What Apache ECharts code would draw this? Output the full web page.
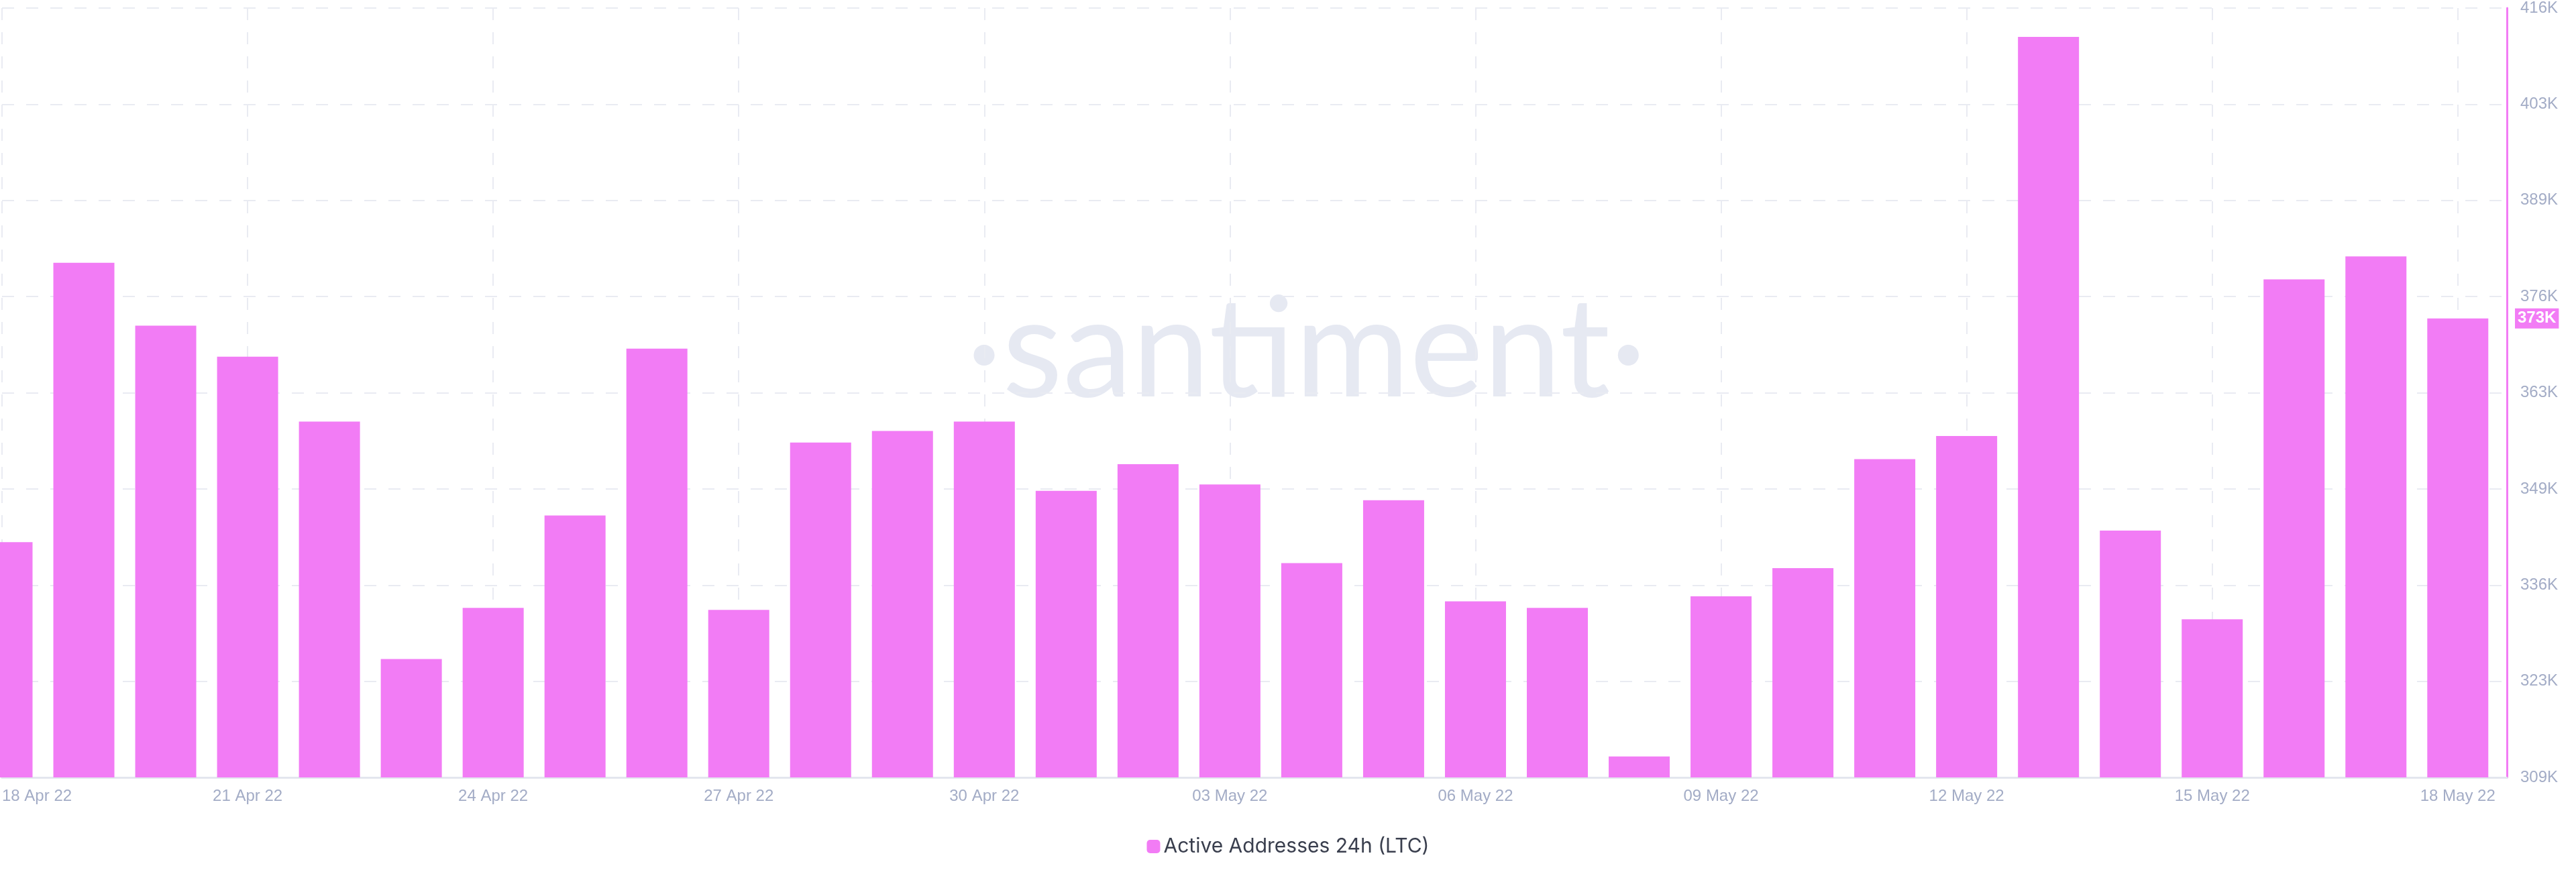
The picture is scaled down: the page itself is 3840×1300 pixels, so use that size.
<!DOCTYPE html>
<html>
<head>
<meta charset="utf-8">
<script src="https://cdn.jsdelivr.net/npm/echarts@6/dist/echarts.min.js"></script>
<style>html,body{margin:0;padding:0;background:#fff}#canvasContainer{width:3840px;height:1300px}</style>
</head>
<body>
<div id="canvasContainer"></div>
<script>
var dates = ['18 Apr 22','19 Apr 22','20 Apr 22','21 Apr 22','22 Apr 22','23 Apr 22','24 Apr 22','25 Apr 22',
    '26 Apr 22','27 Apr 22','28 Apr 22','29 Apr 22','30 Apr 22','01 May 22','02 May 22','03 May 22','04 May 22',
    '05 May 22','06 May 22','07 May 22','08 May 22','09 May 22','10 May 22','11 May 22','12 May 22','13 May 22',
    '14 May 22','15 May 22','16 May 22','17 May 22','18 May 22'];
var activeAddresses = [342000,380700,372000,367700,358700,325800,332900,345700,368800,332600,355800,357400,
    358700,349100,352800,350000,339100,347800,333800,332900,312300,334500,338400,353500,356700,412000,343600,
    331300,378400,381600,373000];
var yMin = 309400;
var yMax = 416000;
var lastValue = 373000;

var chart = echarts.init(document.getElementById('canvasContainer'));
var labelColor = '#a3acc6';
var gridColor = '#e9ebf2';
var pink = '#f27cf5';

var option = {
    animation: false,
    grid: { left: 0, right: 103, top: 12, bottom: 141 },
    graphic: [{
        type: 'text', left: 1440, top: 420, z: 0,
        style: { text: '·santiment·', font: '400 208px Lato, "Open Sans", sans-serif', fill: '#e6e9f2' }
    }],
    legend: {
        bottom: 18, left: 'center', itemWidth: 20, itemHeight: 20,
        textStyle: { color: '#3a3f4e', fontSize: 30, fontFamily: 'Inter, sans-serif' },
        data: ['Active Addresses 24h (LTC)']
    },
    xAxis: {
        type: 'value', min: 0, max: 30.6, interval: 3,
        axisLine: { show: true, lineStyle: { color: '#e3e6ee', width: 3 } },
        axisTick: { show: false },
        splitLine: { show: true, lineStyle: { color: gridColor, type: [18, 18], width: 2 } },
        axisLabel: {
            color: labelColor, fontSize: 24, margin: 16, fontFamily: 'Liberation Sans, sans-serif',
            alignMinLabel: 'left',
            formatter: function (v) { return dates[Math.round(v)] || ''; }
        }
    },
    yAxis: {
        type: 'value', position: 'right', min: 0, max: yMax - yMin, interval: (yMax - yMin) / 8,
        axisLine: { show: true, onZero: false, lineStyle: { color: pink, width: 3 } },
        axisTick: { show: false },
        splitLine: { show: true, lineStyle: { color: gridColor, type: [18, 18], width: 2 } },
        axisLabel: {
            color: labelColor, fontSize: 24, margin: 20, fontFamily: 'Liberation Sans, sans-serif',
            formatter: function (v) { return Math.round((v + yMin) / 1000) + 'K'; }
        }
    },
    series: [{
        name: 'Active Addresses 24h (LTC)',
        type: 'bar',
        barWidth: 91,
        itemStyle: { color: pink },
        data: activeAddresses.map(function (v, i) { return [i, v - yMin]; }),
        markLine: {
            symbol: 'none', silent: true,
            lineStyle: { color: 'transparent', width: 1 },
            data: [{ yAxis: lastValue - yMin }],
            label: {
                show: true, position: 'end', distance: 12, color: '#fff', backgroundColor: pink,
                fontSize: 24, fontWeight: 'bold', padding: [3, 4],
                formatter: function () { return Math.round(lastValue / 1000) + 'K'; }
            }
        }
    }]
};
chart.setOption(option);
</script>
</body>
</html>
